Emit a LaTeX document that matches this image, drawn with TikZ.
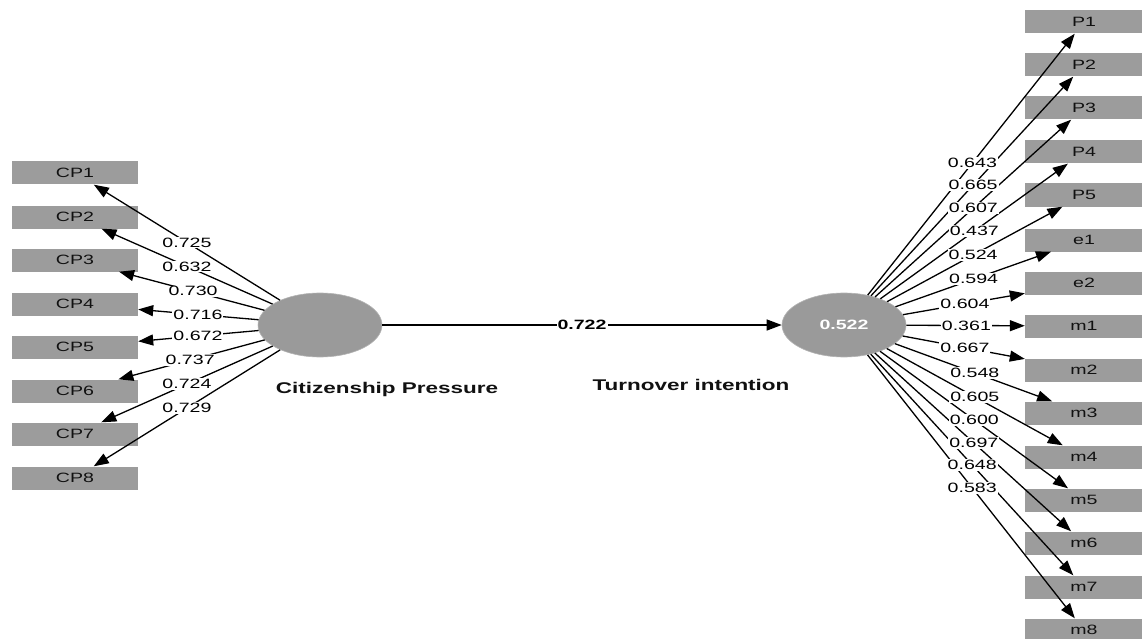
\documentclass[tikz,border=0pt]{standalone}
\usepackage{fontspec}
\setmainfont[FakeStretch=1.45]{Liberation Sans}
\usetikzlibrary{shapes.geometric,calc,arrows.meta}
\definecolor{boxgray}{HTML}{9C9C9C}
\definecolor{lvgray}{HTML}{9A9A9A}
\definecolor{txtdark}{HTML}{111111}
\begin{document}
\begin{tikzpicture}[x=1pt,y=-1pt,
  ind/.style={rectangle, fill=boxgray, minimum height=23pt, inner sep=0pt,
    text=txtdark, font=\fontsize{13.5}{14}\selectfont},
  indL/.style={ind, minimum width=126pt},
  indR/.style={ind, minimum width=118pt},
  lv/.style={ellipse, fill=lvgray, draw=lvgray!75, line width=0.6pt,
    minimum width=124pt, minimum height=64pt, inner sep=0pt},
  lvname/.style={font=\bfseries\fontsize{15.5}{16}\selectfont, text=txtdark},
  conn/.style={line width=1.3pt, -{Triangle[length=15pt,width=11pt]}},
  lab/.style={fill=white, inner sep=1pt, font=\fontsize{13.5}{14}\selectfont, text=black}
]
\useasboundingbox (0,0) rectangle (1142,639);
% latent variables
\node[lv] (cp) at (320,325) {};
\node[lv, font=\bfseries\fontsize{13.5}{14}\selectfont, text=white] (ti) at (844,325) {0.522};
\node[lvname] (cpn) at (387,389) {Citizenship Pressure};
\node[lvname] (tin) at (691,385) {Turnover intention};
% left indicators
\foreach \i/\y in {1/173,2/217,3/260,4/304,5/347,6/391,7/434,8/478}
  \node[indL] (cp\i) at (75,\y) {CP\i};
% right indicators
\foreach \n/\t/\y in {p1/P1/22,p2/P2/65,p3/P3/108,p4/P4/152,p5/P5/195,e1/e1/240,e2/e2/283,
  m1/m1/326,m2/m2/370,m3/m3/413,m4/m4/457,m5/m5/500,m6/m6/543,m7/m7/587,m8/m8/630}
  \node[indR] (\n) at (1084,\y) {\t};
% connectors
\foreach \i in {1,...,8}
  \draw[conn] (cp) -- (cp\i);
\foreach \n in {p1,p2,p3,p4,p5,e1,e2,m1,m2,m3,m4,m5,m6,m7,m8}
  \draw[conn] (ti) -- (\n);
\draw[conn] (cp) -- (ti);
% labels
\foreach \i/\t/\v in {1/0.543/0.725,2/0.543/0.632,3/0.518/0.730,4/0.498/0.716,
  5/0.498/0.672,6/0.53/0.737,7/0.543/0.724,8/0.543/0.729}
  \node[lab] at ($(cp.center)!\t!(cp\i.center)$) {\v};
\foreach \n/\t/\v in {p1/0.535/0.643,p2/0.538/0.665,p3/0.539/0.607,p4/0.543/0.437,
  p5/0.538/0.524,e1/0.54/0.594,e2/0.504/0.604,m1/0.51/0.361,m2/0.504/0.667,
  m3/0.545/0.548,m4/0.545/0.605,m5/0.543/0.600,m6/0.541/0.697,m7/0.534/0.648,m8/0.534/0.583}
  \node[lab] at ($(ti.center)!\t!(\n.center)$) {\v};
\node[lab, font=\bfseries\fontsize{13.5}{14}\selectfont] at ($(cp.center)!0.5!(ti.center)$) {0.722};
\end{tikzpicture}
\end{document}
